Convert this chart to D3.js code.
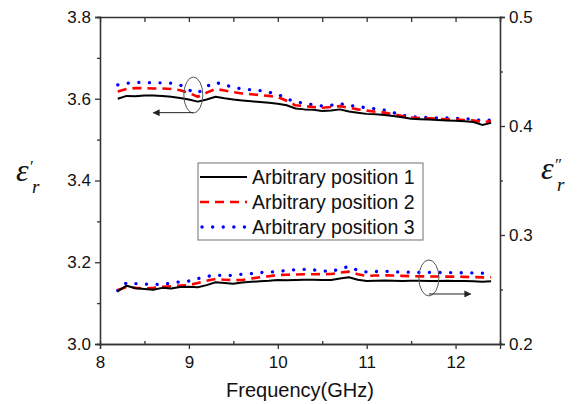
<!DOCTYPE html>
<html lang="en">
  <head>
    <meta charset="UTF-8" />
    <title>Permittivity vs Frequency</title>
    <script src="https://cdn.jsdelivr.net/npm/d3@7"></script>
    <style>
      body { margin: 0; background: #fff; }
      text { font-family: Arial, "Liberation Sans", sans-serif; fill: #111; }
    </style>
  </head>
  <body>
    <svg id="chart" width="578" height="404"></svg>
    <script>
      // frequency grid (GHz)
      var freq = [8.2, 8.3, 8.4, 8.5, 8.6, 8.7, 8.8, 8.9, 9.0, 9.1, 9.2, 9.3, 9.4, 9.5, 9.6, 9.7, 9.8, 9.9,
                  10.0, 10.1, 10.2, 10.3, 10.4, 10.5, 10.6, 10.7, 10.8, 10.9, 11.0, 11.1, 11.2, 11.3, 11.4,
                  11.5, 11.6, 11.7, 11.8, 11.9, 12.0, 12.1, 12.2, 12.3, 12.4];

      // real part (left axis)
      var realPos1 = [3.600, 3.607, 3.606, 3.608, 3.608, 3.607, 3.605, 3.602, 3.598, 3.593, 3.598, 3.605, 3.601,
                      3.598, 3.596, 3.594, 3.592, 3.590, 3.588, 3.584, 3.576, 3.574, 3.573, 3.570, 3.571, 3.574,
                      3.569, 3.566, 3.563, 3.562, 3.560, 3.558, 3.555, 3.551, 3.550, 3.549, 3.548, 3.547, 3.546,
                      3.545, 3.543, 3.536, 3.541];
      var realPos2 = [3.618, 3.624, 3.626, 3.626, 3.625, 3.625, 3.624, 3.621, 3.614, 3.605, 3.615, 3.624, 3.620,
                      3.616, 3.613, 3.611, 3.609, 3.607, 3.604, 3.595, 3.584, 3.582, 3.580, 3.578, 3.580, 3.582,
                      3.578, 3.574, 3.571, 3.568, 3.566, 3.562, 3.558, 3.554, 3.553, 3.552, 3.551, 3.550, 3.549,
                      3.548, 3.547, 3.543, 3.545];
      var realPos3 = [3.634, 3.638, 3.640, 3.640, 3.639, 3.639, 3.638, 3.634, 3.621, 3.614, 3.630, 3.640, 3.634,
                      3.628, 3.624, 3.622, 3.620, 3.616, 3.611, 3.600, 3.592, 3.589, 3.585, 3.582, 3.584, 3.588,
                      3.584, 3.581, 3.578, 3.575, 3.572, 3.566, 3.560, 3.556, 3.555, 3.554, 3.553, 3.553, 3.552,
                      3.551, 3.550, 3.546, 3.548];

      // imaginary part (right axis)
      var imagPos1 = [0.2486, 0.2535, 0.2512, 0.2505, 0.2498, 0.2515, 0.2510, 0.2522, 0.2526, 0.2520, 0.2540,
                      0.2566, 0.2560, 0.2552, 0.2565, 0.2570, 0.2575, 0.2580, 0.2587, 0.2584, 0.2588, 0.2590,
                      0.2589, 0.2588, 0.2587, 0.2600, 0.2612, 0.2590, 0.2578, 0.2580, 0.2582, 0.2580, 0.2579,
                      0.2581, 0.2580, 0.2578, 0.2579, 0.2580, 0.2578, 0.2577, 0.2576, 0.2572, 0.2575];
      var imagPos2 = [0.2495, 0.2523, 0.2515, 0.2510, 0.2515, 0.2525, 0.2530, 0.2536, 0.2540, 0.2560, 0.2580,
                      0.2596, 0.2590, 0.2585, 0.2587, 0.2600, 0.2612, 0.2622, 0.2633, 0.2636, 0.2638, 0.2640,
                      0.2640, 0.2641, 0.2642, 0.2655, 0.2664, 0.2640, 0.2624, 0.2628, 0.2630, 0.2628, 0.2625,
                      0.2622, 0.2620, 0.2620, 0.2619, 0.2618, 0.2618, 0.2616, 0.2614, 0.2611, 0.2612];
      var imagPos3 = [0.2490, 0.2563, 0.2555, 0.2548, 0.2550, 0.2545, 0.2560, 0.2570, 0.2578, 0.2600, 0.2620,
                      0.2633, 0.2625, 0.2632, 0.2640, 0.2645, 0.2655, 0.2660, 0.2664, 0.2675, 0.2682, 0.2685,
                      0.2680, 0.2672, 0.2664, 0.2690, 0.2712, 0.2675, 0.2660, 0.2665, 0.2668, 0.2662, 0.2660,
                      0.2658, 0.2657, 0.2658, 0.2656, 0.2655, 0.2655, 0.2653, 0.2652, 0.2650, 0.2652];

      var seriesNames = ["Arbitrary position 1", "Arbitrary position 2", "Arbitrary position 3"];
      var xTicks = [8, 9, 10, 11, 12];
      var leftTicks = [3.0, 3.2, 3.4, 3.6, 3.8];
      var rightTicks = [0.2, 0.3, 0.4, 0.5];

      var margin = {top: 17, right: 78, bottom: 60, left: 100};
      var width = 578 - margin.left - margin.right;
      var height = 404 - margin.top - margin.bottom;

      var svg = d3.select("#chart");
      var g = svg.append("g").attr("transform", "translate(" + margin.left + "," + margin.top + ")");

      var xScale = d3.scaleLinear().domain([8, 12.5]).range([0, width]);
      var yLeft = d3.scaleLinear().domain([3.0, 3.8]).range([height, 0]);
      var yRight = d3.scaleLinear().domain([0.2, 0.5]).range([height, 0]);

      var styles = [
        {color: "#000", width: 2, dash: null, cap: "butt"},
        {color: "#ff0000", width: 2.6, dash: "9,6", cap: "butt"},
        {color: "#0000ff", width: 3.3, dash: "0.1,10.5", cap: "round"}
      ];

      // axes
      var axisColor = "#333";
      function styleAxis(sel) {
        sel.selectAll(".domain").attr("stroke", axisColor).attr("stroke-width", 1.3);
        sel.selectAll(".tick line").attr("stroke", axisColor).attr("stroke-width", 1.3);
        sel.selectAll(".tick text").style("font-size", "17px").attr("fill", "#111")
          .style("font-family", "Arial, 'Liberation Sans', sans-serif");
      }

      // minor ticks first
      g.append("g").attr("transform", "translate(0," + height + ")")
        .call(d3.axisBottom(xScale).tickValues([8.5, 9.5, 10.5, 11.5, 12.5]).tickSize(-3).tickFormat(""))
        .call(styleAxis);
      g.append("g")
        .call(d3.axisTop(xScale).tickValues(d3.range(8.5, 12.6, 0.5)).tickSize(-5).tickFormat(""))
        .call(styleAxis);
      g.append("g")
        .call(d3.axisLeft(yLeft).tickValues([3.1, 3.3, 3.5, 3.7]).tickSize(3).tickFormat(""))
        .call(styleAxis);
      g.append("g").attr("transform", "translate(" + width + ",0)")
        .call(d3.axisRight(yRight).tickValues([0.25, 0.35, 0.45]).tickSize(3).tickFormat(""))
        .call(styleAxis);

      g.append("g").attr("transform", "translate(0," + height + ")")
        .call(d3.axisBottom(xScale).tickValues(xTicks).tickSize(5).tickPadding(7).tickFormat(d3.format("d")))
        .call(styleAxis);
      g.append("g")
        .call(d3.axisLeft(yLeft).tickValues(leftTicks).tickSize(5).tickPadding(4).tickFormat(d3.format(".1f")))
        .call(styleAxis);
      g.append("g").attr("transform", "translate(" + width + ",0)")
        .call(d3.axisRight(yRight).tickValues(rightTicks).tickSize(5).tickPadding(4).tickFormat(d3.format(".1f")))
        .call(styleAxis);

      // curves
      var realSeries = [realPos1, realPos2, realPos3];
      var imagSeries = [imagPos1, imagPos2, imagPos3];

      var lineLeft = d3.line().x(function(d, i) { return xScale(freq[i]); }).y(function(d) { return yLeft(d); });
      var lineRight = d3.line().x(function(d, i) { return xScale(freq[i]); }).y(function(d) { return yRight(d); });

      // draw blue first, black last
      [2, 1, 0].forEach(function(k) {
        var s = styles[k];
        [[realSeries[k], lineLeft], [imagSeries[k], lineRight]].forEach(function(pair) {
          g.append("path")
            .datum(pair[0])
            .attr("d", pair[1])
            .attr("fill", "none")
            .attr("stroke", s.color)
            .attr("stroke-width", s.width)
            .attr("stroke-dasharray", s.dash)
            .attr("stroke-linecap", s.cap)
            .attr("stroke-linejoin", "round");
        });
      });

      // arrow marker
      svg.append("defs").append("marker")
        .attr("id", "arrow")
        .attr("viewBox", "0 0 10 10")
        .attr("refX", 9).attr("refY", 5)
        .attr("markerWidth", 9).attr("markerHeight", 7)
        .attr("markerUnits", "userSpaceOnUse")
        .attr("orient", "auto")
        .append("path").attr("d", "M0,0 L10,5 L0,10 z").attr("fill", "#222");

      // ellipse annotations
      g.append("ellipse")
        .attr("cx", xScale(9.05)).attr("cy", yLeft(3.609))
        .attr("rx", 9.5).attr("ry", 18)
        .attr("fill", "none").attr("stroke", "#555").attr("stroke-width", 1);
      g.append("line")
        .attr("x1", xScale(9.05)).attr("y1", yLeft(3.566))
        .attr("x2", xScale(8.6)).attr("y2", yLeft(3.566))
        .attr("stroke", "#222").attr("stroke-width", 1)
        .attr("marker-end", "url(#arrow)");

      g.append("ellipse")
        .attr("cx", xScale(11.7)).attr("cy", yRight(0.2606))
        .attr("rx", 10).attr("ry", 18)
        .attr("fill", "none").attr("stroke", "#555").attr("stroke-width", 1);
      g.append("line")
        .attr("x1", xScale(11.7)).attr("y1", yRight(0.2459))
        .attr("x2", xScale(12.17)).attr("y2", yRight(0.2459))
        .attr("stroke", "#222").attr("stroke-width", 1)
        .attr("marker-end", "url(#arrow)");

      // legend
      var legend = svg.append("g").attr("transform", "translate(198,163)");
      legend.append("rect")
        .attr("width", 225).attr("height", 77)
        .attr("fill", "#fff").attr("stroke", "#888").attr("stroke-width", 1.2);
      seriesNames.forEach(function(name, i) {
        var s = styles[i];
        var cy = 14 + i * 25;
        legend.append("line")
          .attr("x1", i === 2 ? 4 : 2).attr("x2", 49).attr("y1", cy).attr("y2", cy)
          .attr("stroke", s.color).attr("stroke-width", s.width)
          .attr("stroke-dasharray", s.dash).attr("stroke-linecap", s.cap);
        legend.append("text")
          .attr("x", 54).attr("y", cy + 7)
          .style("font-size", "19.5px")
          .text(name);
      });

      // x axis title
      svg.append("text")
        .attr("x", margin.left + width / 2).attr("y", 397)
        .attr("text-anchor", "middle")
        .style("font-size", "20px")
        .text("Frequency(GHz)");

      // epsilon labels: symbol, prime mark and subscript as separate texts
      function epsLabel(x, y, prime) {
        var serif = "'Liberation Serif', 'Times New Roman', serif";
        svg.append("text").attr("x", x).attr("y", y)
          .style("font-family", serif).style("font-style", "italic").style("font-size", "32px")
          .text("\u03b5");
        svg.append("text").attr("x", x + 14).attr("y", y - 9)
          .style("font-family", serif).style("font-size", "17px")
          .text(prime);
        svg.append("text").attr("x", x + 16).attr("y", y + 12)
          .style("font-family", serif).style("font-style", "italic").style("font-size", "19px")
          .text("r");
      }
      epsLabel(16, 181, "\u2032");
      epsLabel(541, 179, "\u2033");
    </script>
  </body>
</html>
